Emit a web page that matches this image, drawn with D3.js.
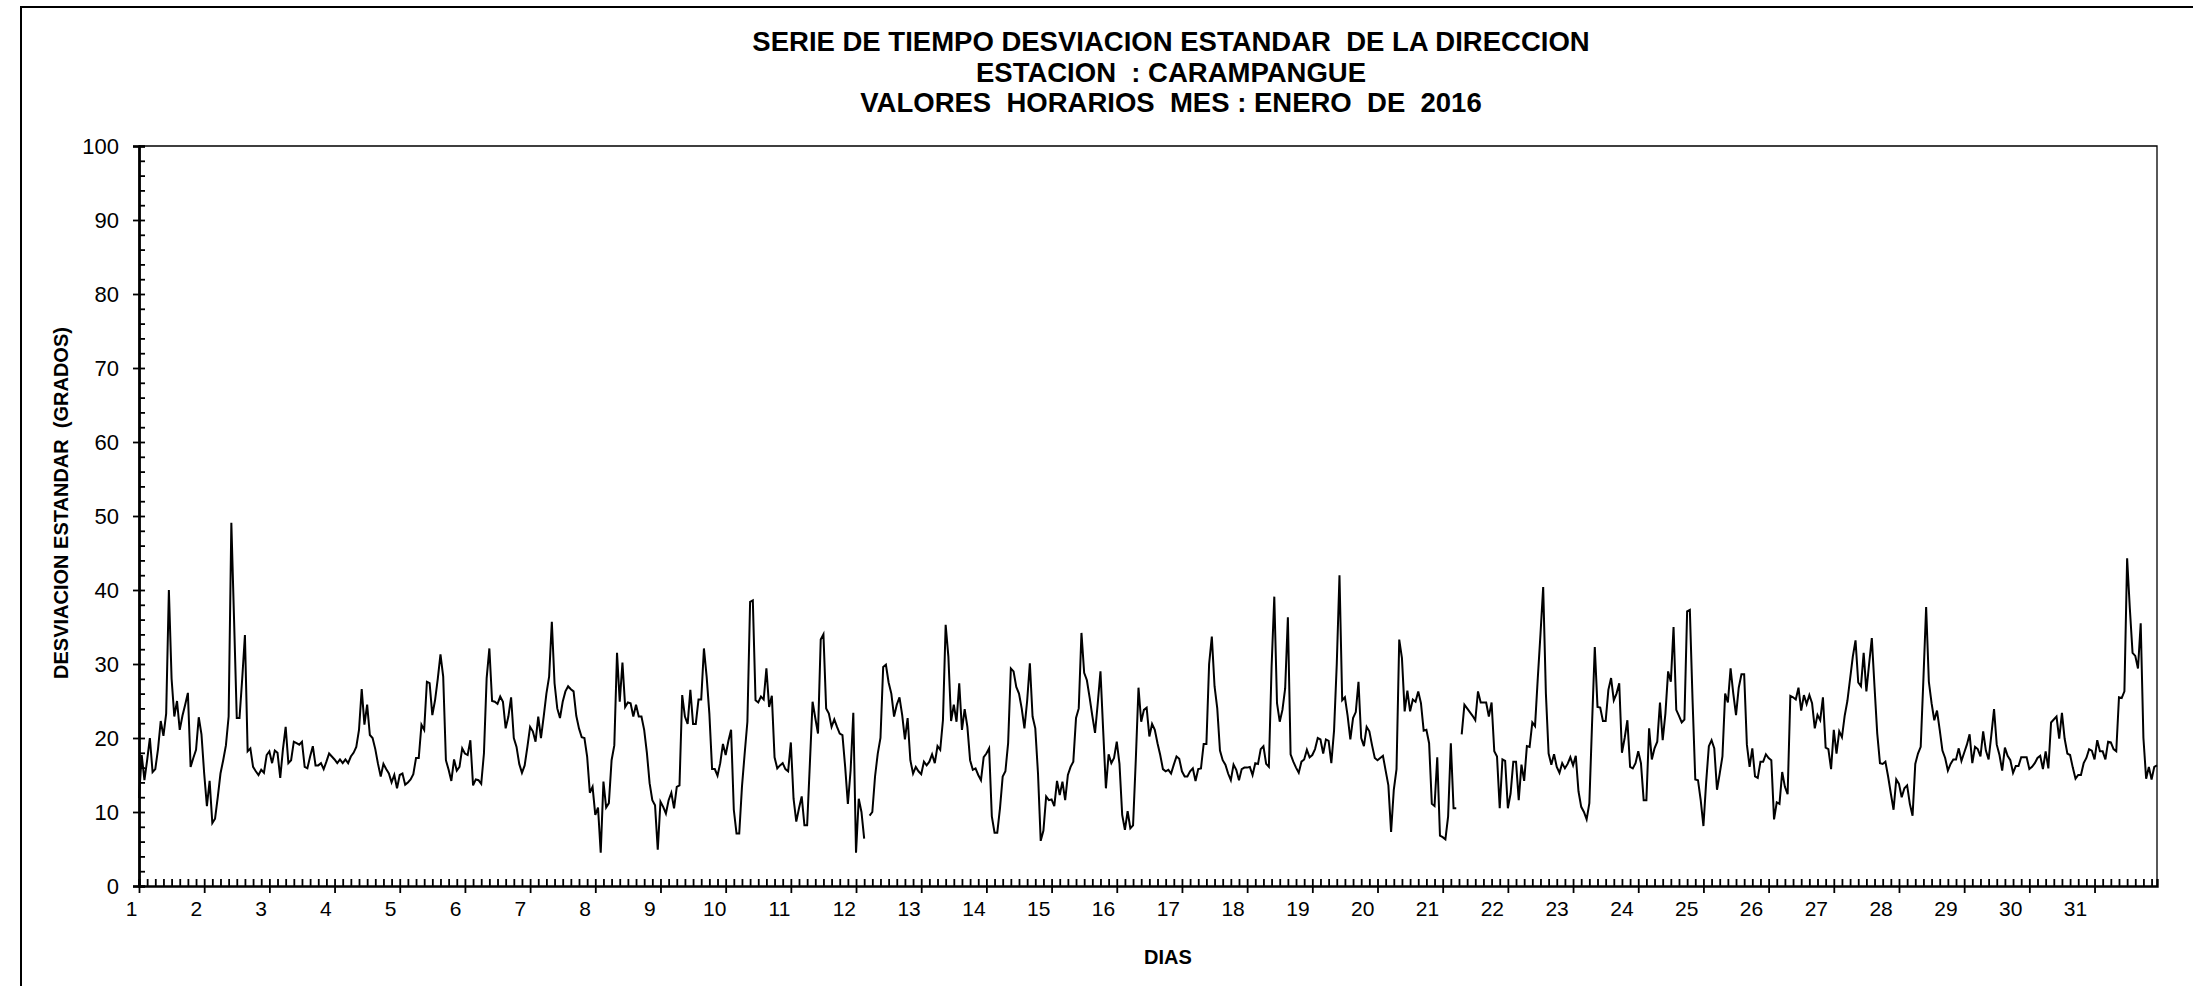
<!DOCTYPE html>
<html>
<head>
<meta charset="utf-8">
<script src="https://cdn.jsdelivr.net/npm/d3@7/dist/d3.min.js"></script>
<style>
  body { margin: 0; background: #fff; }
  text { font-family: "Liberation Sans", Arial, sans-serif; fill: #000; }
</style>
</head>
<body>
<svg id="chart" width="2193" height="986"></svg>
<script>
// titles
var titleLines = ["SERIE DE TIEMPO DESVIACION ESTANDAR  DE LA DIRECCION",
                  "ESTACION  : CARAMPANGUE",
                  "VALORES  HORARIOS  MES : ENERO  DE  2016"];
var yTitle = "DESVIACION ESTANDAR  (GRADOS)";
var xTitle = "DIAS";

// axis ticks
var dayLabels = d3.range(1, 32);
var yTicks = [0, 10, 20, 30, 40, 50, 60, 70, 80, 90, 100];

// hourly values, one array per day (null = missing hour)
var d01 = [11.9, 17.7, 14.3, 17, 20, 15.4, 15.8, 18.5, 22.3, 20.3, 23.3, 40, 28, 22.9, 25, 21.1, 23, 24.5, 26.1, 16.1, 17.3, 18.4, 22.8, 20.5];
var d02 = [15.2, 10.8, 14.2, 8.5, 9.1, 12, 15.2, 17, 19, 22.9, 49.1, 36, 22.7, 22.7, 28, 33.9, 18.2, 18.6, 16.1, 15.5, 15, 15.7, 15.3, 17.7];
var d03 = [18.2, 16.6, 18.3, 18, 14.6, 18.5, 21.5, 16.6, 17, 19.5, 19.3, 19.1, 19.5, 16.1, 15.9, 17.5, 18.9, 16.3, 16.3, 16.6, 15.8, 16.8, 17.9, 17.5];
var d04 = [17.1, 16.6, 17.1, 16.6, 17.1, 16.6, 17.5, 18, 18.8, 21.1, 26.6, 21.8, 24.5, 20.4, 20, 18.5, 16.5, 14.8, 16.5, 15.8, 15.2, 14, 15, 13.2];
var d05 = [15, 15.2, 13.7, 14, 14.4, 15.1, 17.3, 17.3, 21.8, 21.1, 27.6, 27.4, 23.1, 25.1, 28, 31.3, 28.3, 17, 15.7, 14.2, 17.1, 15.6, 16.1, 18.6];
var d06 = [17.9, 17.7, 19.7, 13.6, 14.4, 14.3, 13.8, 17.9, 28.1, 32.1, 25, 24.9, 24.6, 25.6, 24.9, 21.3, 22.9, 25.5, 20, 18.8, 16.5, 15.3, 16.3, 18.8];
var d07 = [21.5, 20.9, 19.5, 22.9, 20, 22.9, 26, 28.3, 35.7, 27.4, 24, 22.7, 24.9, 26.3, 27, 26.6, 26.3, 23, 21.3, 20.1, 20, 17.5, 12.6, 13.4];
var d08 = [9.6, 10.6, 4.5, 14.1, 10.6, 11.2, 17, 19, 31.5, 24.9, 30.2, 24.2, 24.8, 24.7, 22.9, 24.5, 22.9, 22.9, 21.1, 18, 13.9, 11.6, 10.9, 4.9];
var d09 = [11.4, 10.7, 9.8, 11.6, 12.6, 10.5, 13.4, 13.6, 25.8, 22.9, 21.9, 26.5, 21.9, 21.9, 25.2, 25.2, 32.1, 28.3, 23.3, 15.8, 15.8, 14.9, 16.6, 19.2];
var d10 = [17.7, 19.6, 21.1, 10.3, 7.1, 7.1, 13.4, 17.9, 22.2, 38.4, 38.6, 25.1, 24.8, 25.6, 25.2, 29.4, 24.2, 25.7, 17.4, 15.9, 16.3, 16.6, 15.8, 15.5];
var d11 = [19.4, 11.8, 8.7, 10.5, 12.1, 8.2, 8.2, 16.5, 24.9, 22.7, 20.6, 33.3, 34, 24, 23.3, 21.5, 22.5, 21.5, 20.6, 20.4, 16.1, 11.1, 15.6, 23.4];
var d12 = [4.5, 11.8, 10, 6.4, null, 9.5, 10, 14.8, 17.9, 20, 29.6, 29.9, 27.5, 26, 22.9, 24.5, 25.5, 23.1, 19.8, 22.7, 17, 15.2, 16.1, 15.5];
var d13 = [15.1, 16.8, 16.3, 16.8, 17.8, 16.6, 18.9, 18.4, 22.4, 35.3, 31, 22.3, 24.5, 22.2, 27.4, 21.1, 23.9, 21.5, 17, 15.7, 15.9, 15, 14.3, 17.4];
var d14 = [17.9, 18.6, 9.4, 7.2, 7.2, 10.5, 14.8, 15.5, 19.3, 29.4, 29, 26.9, 26, 24, 21.3, 25, 30.1, 22.9, 21.3, 15.2, 6.1, 7.5, 12.1, 11.6];
var d15 = [11.7, 10.8, 14.2, 12.3, 14.1, 11.6, 15, 16.1, 16.8, 22.7, 24, 34.2, 28.8, 27.8, 25.5, 23, 20.7, 24.7, 29, 21, 13.2, 17.8, 16.6, 17.3];
var d16 = [19.5, 16.5, 9.6, 7.6, 10.1, 7.8, 8.2, 17, 26.8, 22.2, 23.8, 24.1, 20.2, 21.9, 21.1, 19.3, 17.7, 15.8, 15.5, 15.7, 15.2, 16.4, 17.5, 17.2];
var d17 = [15.5, 14.8, 14.8, 15.5, 15.9, 14.2, 15.8, 15.9, 19.2, 19.2, 30, 33.7, 27, 24, 18.3, 17, 16.4, 15.2, 14.3, 16.4, 15.7, 14.3, 15.8, 16];
var d18 = [16, 16.1, 15, 16.6, 16.5, 18.5, 18.9, 16.5, 16.1, 29.6, 39.1, 24.7, 22.2, 23.8, 26.7, 36.3, 17.8, 16.8, 16, 15.3, 16.8, 17.1, 18.4, 17.4];
var d19 = [17.7, 18.5, 20, 19.8, 17.9, 19.8, 19.6, 16.6, 21, 30, 42, 25.1, 25.5, 23, 19.8, 22.7, 23.5, 27.6, 20, 18.9, 21.5, 20.9, 19, 17.3];
var d20 = [17, 17.3, 17.6, 15.6, 13.6, 7.3, 13, 15.8, 33.3, 30.8, 23.6, 26.4, 23.6, 25.2, 24.9, 26.3, 24.7, 21, 21.1, 19.3, 11.1, 10.8, 17.4, 6.8];
var d21 = [6.6, 6.3, 9.4, 19.3, 10.5, 10.5, null, 20.5, 24.5, 24, 23.5, 23, 22.4, 26.3, 24.8, 24.8, 24.8, 22.9, 24.8, 18.2, 17.5, 10.5, 17.1, 16.9];
var d22 = [10.5, 12.5, 16.8, 16.8, 11.6, 16.4, 14.2, 18.9, 18.8, 22.1, 21.6, 28, 34, 40.4, 26, 17.9, 16.4, 17.8, 16.1, 15.3, 16.6, 15.9, 16.5, 17.4];
var d23 = [16.3, 17.6, 12.8, 10.7, 10, 9, 11.2, 22, 32.3, 24.2, 24.1, 22.3, 22.3, 26.5, 28.1, 25.1, 26, 27.4, 18, 20, 22.4, 16.1, 15.9, 16.6];
var d24 = [18.2, 16.6, 11.6, 11.6, 21.3, 17.1, 18.6, 19.5, 24.8, 19.7, 23.3, 29, 27.6, 35, 23.8, 23, 22.1, 22.5, 37.1, 37.3, 25.1, 14.4, 14.3, 11.6];
var d25 = [8.1, 14, 18.9, 19.7, 18.6, 13, 15.2, 17.5, 26, 24.8, 29.4, 26, 23.1, 26.8, 28.6, 28.6, 19.1, 16.1, 18.6, 14.8, 14.6, 16.8, 16.8, 17.8];
var d26 = [17.3, 17, 9, 11.3, 11.1, 15.4, 13.4, 12.4, 25.7, 25.5, 25.2, 26.8, 23.7, 25.8, 24.6, 25.8, 24.7, 21.3, 23.1, 22.4, 25.5, 18.7, 18.5, 15.8];
var d27 = [21.1, 17.9, 20.9, 20.1, 23, 25, 28, 31, 33.2, 27.5, 27, 31.5, 26.3, 30, 33.5, 26.9, 20.6, 16.6, 16.5, 16.8, 14.8, 12.5, 10.3, 14.4];
var d28 = [13.8, 12, 13.2, 13.6, 11.1, 9.5, 16.5, 17.9, 18.8, 28, 37.7, 27.6, 24.7, 22.4, 23.7, 21.1, 18.3, 17.3, 15.6, 16.5, 17.1, 17.1, 18.6, 16.9];
var d29 = [18, 19.1, 20.5, 16.6, 18.8, 18.5, 17.5, 20.9, 18.3, 17.1, 20.4, 23.9, 19.1, 17.7, 15.6, 18.7, 17.6, 17, 15.3, 16.2, 16.2, 17.4, 17.4, 17.4];
var d30 = [15.8, 16.1, 16.6, 17.3, 17.6, 15.8, 18.2, 15.9, 22.1, 22.5, 22.9, 19.9, 23.4, 19.9, 17.9, 17.7, 16, 14.5, 15, 15, 16.6, 17.3, 18.5, 18.3];
var d31 = [17.1, 19.7, 18.2, 18.2, 17.1, 19.5, 19.4, 18.5, 18.2, 25.5, 25.4, 26.3, 44.3, 37.5, 31.5, 31.1, 29.4, 35.5, 20, 14.5, 16.1, 14.4, 16.1, 16.3];

var values = [].concat(d01, d02, d03, d04, d05, d06, d07, d08, d09, d10,
                       d11, d12, d13, d14, d15, d16, d17, d18, d19, d20,
                       d21, d22, d23, d24, d25, d26, d27, d28, d29, d30, d31);

var WIDTH = 2193, HEIGHT = 986;
var PLOT_LEFT = 139, PLOT_RIGHT = 2157, PLOT_TOP = 146, PLOT_BOTTOM = 886;

var svg = d3.select("#chart");

// outer frame of the chart (right and bottom edges fall outside the picture)
svg.append("rect")
    .attr("x", 21).attr("y", 7)
    .attr("width", WIDTH + 20).attr("height", HEIGHT + 20)
    .attr("fill", "none").attr("stroke", "#000").attr("stroke-width", 2);

var x = d3.scaleLinear().domain([0, values.length - 1]).range([PLOT_LEFT, PLOT_RIGHT]);
var y = d3.scaleLinear().domain([0, 100]).range([PLOT_BOTTOM, PLOT_TOP]);
// day labels sit a little tighter than the hourly points (as in the original chart)
var xDay = d3.scaleLinear().domain([1, 31]).range([131, 2075]);

// plot area box (top and right)
svg.append("path")
    .attr("d", "M" + PLOT_LEFT + "," + PLOT_TOP + "H" + PLOT_RIGHT + "V" + PLOT_BOTTOM)
    .attr("fill", "none").attr("stroke", "#000").attr("stroke-width", 1.3);

// Y axis: labels + major ticks crossing, minor ticks inside
var yAxis = svg.append("g").attr("transform", "translate(" + PLOT_LEFT + ",0)");
yAxis.call(d3.axisLeft(y).tickValues(yTicks).tickSize(6).tickPadding(14));
yAxis.append("g").call(d3.axisRight(y).tickValues(d3.range(0, 101, 2)).tickSize(6).tickFormat(""));
yAxis.selectAll("path.domain").attr("stroke-width", 2.4);
yAxis.selectAll(".tick line").attr("stroke-width", 1.8);
yAxis.selectAll("text").style("font-size", "22px");

// X axis: minor ticks every 3 hours, day labels underneath
var xAxis = svg.append("g").attr("transform", "translate(0," + PLOT_BOTTOM + ")");
xAxis.call(d3.axisTop(x).tickValues(d3.range(0, values.length, 3)).tickSize(7).tickFormat(""));
xAxis.append("g").call(d3.axisBottom(x).tickValues(d3.range(0, values.length, 24)).tickSize(7).tickFormat(""));
xAxis.append("g").call(d3.axisBottom(xDay).tickValues(dayLabels).tickSize(0).tickPadding(15)
    .tickFormat(d3.format("d")));
xAxis.selectAll("path.domain").attr("stroke-width", 2.4);
xAxis.selectAll("g g path.domain").remove();
xAxis.selectAll(".tick line").attr("stroke-width", 1.8);
xAxis.selectAll("text").style("font-size", "21px");

// the series
var line = d3.line()
    .defined(function(d){ return d != null; })
    .x(function(d, i){ return x(i); })
    .y(function(d){ return y(d); });

svg.append("path")
    .datum(values)
    .attr("d", line)
    .attr("fill", "none")
    .attr("stroke", "#000")
    .attr("stroke-width", 2)
    .attr("stroke-linejoin", "miter");

// titles
svg.append("g").selectAll("text")
    .data(titleLines)
    .enter()
    .append("text")
    .attr("x", 1171)
    .attr("y", function(d, i){ return 51 + i * 30.5; })
    .attr("text-anchor", "middle")
    .style("font-size", "27.5px")
    .style("font-weight", "bold")
    .style("white-space", "pre")
    .text(function(d){ return d; });

svg.append("text")
    .attr("transform", "translate(68,503) rotate(-90)")
    .attr("text-anchor", "middle")
    .style("font-size", "20px")
    .style("font-weight", "bold")
    .style("white-space", "pre")
    .text(yTitle);

svg.append("text")
    .attr("x", 1168).attr("y", 964)
    .attr("text-anchor", "middle")
    .style("font-size", "20px")
    .style("font-weight", "bold")
    .text(xTitle);
</script>
</body>
</html>
